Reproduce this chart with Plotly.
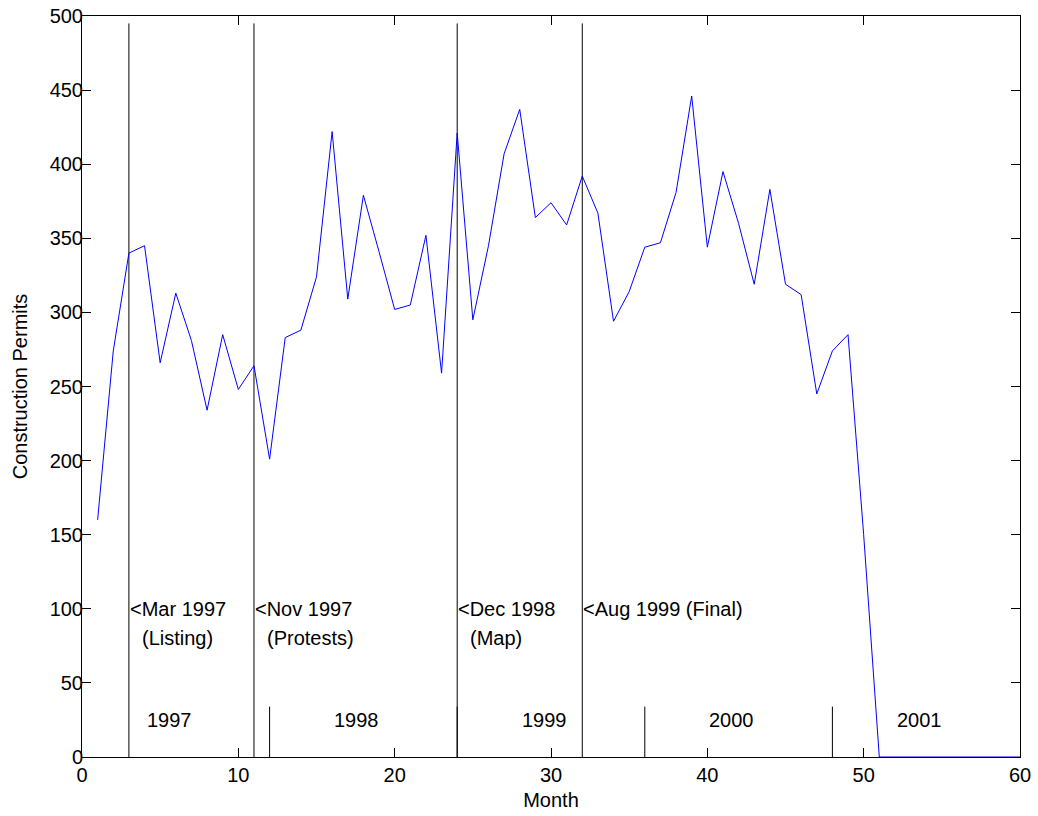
import plotly.graph_objects as go

# ---- data ----
months = list(range(1, 61))
permits = [160, 274, 340, 345, 266, 313, 281, 234, 285, 248,
           264, 201, 283, 288, 324, 422, 309, 379, 341, 302,
           305, 352, 259, 421, 295, 345, 407, 437, 364, 374,
           359, 392, 367, 294, 314, 344, 347, 381, 446, 344,
           395, 360, 319, 383, 319, 312, 245, 274, 285, 150,
           0, 0, 0, 0, 0, 0, 0, 0, 0, 0]

event_months = [3, 11, 24, 32]
event_line1 = ["<Mar 1997", "<Nov 1997", "<Dec 1998", "<Aug 1999 (Final)"]
event_line2 = ["(Listing)", "(Protests)", "(Map)", ""]
event_top = 495

year_bounds = [12, 24, 36, 48]
year_bound_top = 34
year_labels = ["1997", "1998", "1999", "2000", "2001"]
year_label_x = [4, 16, 28, 40, 52]
year_label_y = 25

x_ticks = [0, 10, 20, 30, 40, 50, 60]
y_ticks = [0, 50, 100, 150, 200, 250, 300, 350, 400, 450, 500]

FONT = "Liberation Sans, Arial, Helvetica, sans-serif"
FS = 20

fig = go.Figure()

# event vertical lines
ex, ey = [], []
for m in event_months:
    ex += [m, m, None]
    ey += [0, event_top, None]
fig.add_trace(go.Scatter(x=ex, y=ey, mode="lines",
                         line=dict(color="black", width=1),
                         hoverinfo="skip", showlegend=False))

# year boundary short lines
bx, by = [], []
for m in year_bounds:
    bx += [m, m, None]
    by += [0, year_bound_top, None]
fig.add_trace(go.Scatter(x=bx, y=by, mode="lines",
                         line=dict(color="black", width=1),
                         hoverinfo="skip", showlegend=False))

# data series
fig.add_trace(go.Scatter(x=months, y=permits, mode="lines",
                         line=dict(color="#0000ff", width=1),
                         showlegend=False))

annotations = []
for m, t1, t2 in zip(event_months, event_line1, event_line2):
    annotations.append(dict(x=m, y=100, xref="x", yref="y", text=t1,
                            showarrow=False, xanchor="left", yanchor="middle",
                            xshift=-1,
                            font=dict(family=FONT, size=FS, color="black")))
    if t2:
        annotations.append(dict(x=m, y=80, xref="x", yref="y", text=t2,
                                showarrow=False, xanchor="left", yanchor="middle",
                                xshift=11,
                                font=dict(family=FONT, size=FS, color="black")))
for lab, lx in zip(year_labels, year_label_x):
    annotations.append(dict(x=lx, y=year_label_y, xref="x", yref="y", text=lab,
                            showarrow=False, xanchor="left", yanchor="middle",
                            font=dict(family=FONT, size=FS, color="black")))

axis_common = dict(showgrid=False, zeroline=False, showline=True,
                   linecolor="black", linewidth=1, mirror="ticks",
                   ticks="inside", ticklen=9, tickwidth=1, tickcolor="black",
                   tickfont=dict(family=FONT, size=FS, color="black"),
                   layer="below traces", automargin=False)

fig.update_layout(
    width=1038, height=816,
    margin=dict(l=82, r=18, t=16, b=59),
    paper_bgcolor="white", plot_bgcolor="white",
    font=dict(family=FONT, size=FS, color="black"),
    xaxis=dict(range=[0, 60], tickvals=x_ticks, ticklabelstandoff=0,
               title=dict(text="Month", font=dict(family=FONT, size=FS), standoff=7),
               **axis_common),
    yaxis=dict(range=[0, 500], tickvals=y_ticks, ticklabelstandoff=-6,
               title=dict(text="Construction Permits", font=dict(family=FONT, size=FS), standoff=16),
               **axis_common),
    annotations=annotations,
)

fig.write_html("out.html", config={"displayModeBar": False},
               post_script="document.body.style.margin='0';document.body.style.padding='0';")
